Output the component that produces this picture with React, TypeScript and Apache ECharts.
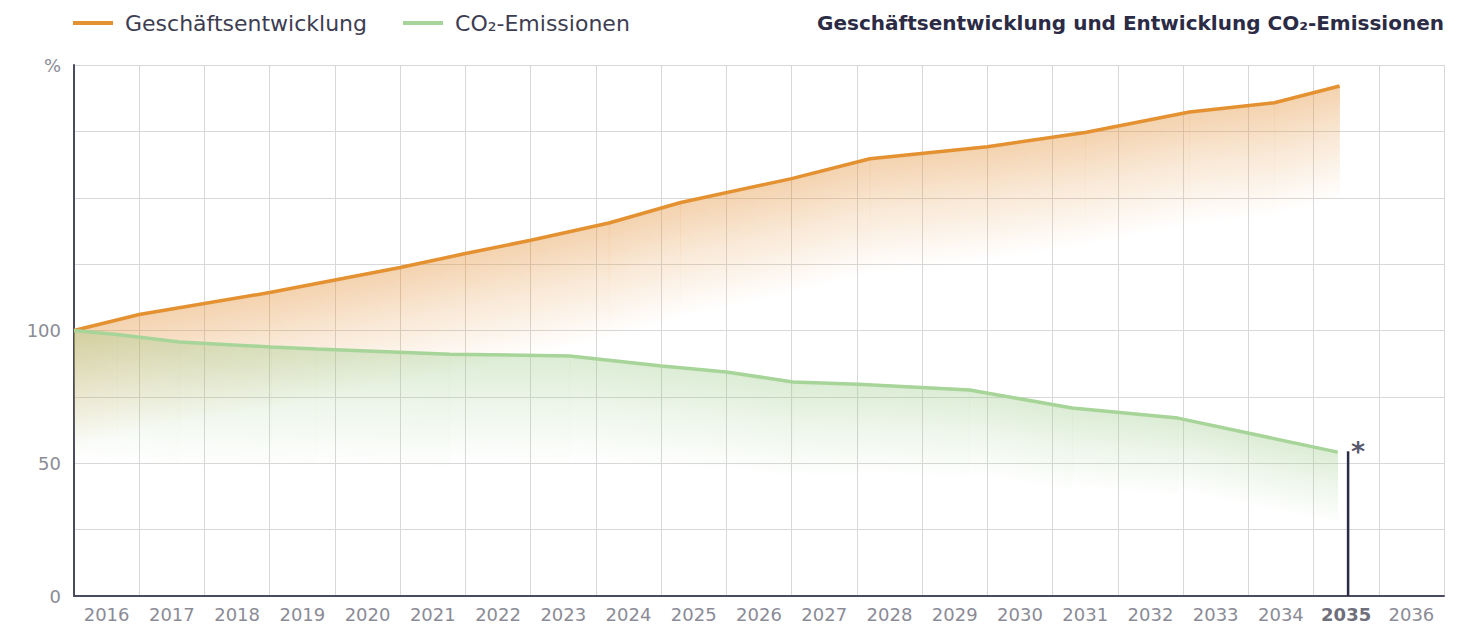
import React, { useEffect, useRef } from 'react';
import * as echarts from 'echarts';

// ---------- data ----------
const years = ['2016','2017','2018','2019','2020','2021','2022','2023','2024','2025','2026','2027','2028','2029','2030','2031','2032','2033','2034','2035','2036'];
// x positions in "year units" from the left edge of the 2016 band
const businessX = [0, 1, 3, 5, 6, 7, 8.2, 9.3, 11, 12.2, 14, 15.5, 17.1, 18.4, 19.4];
const businessY = [100, 106, 114.3, 123.7, 129, 134, 140.5, 148.2, 157.2, 164.7, 169.2, 174.6, 182.3, 185.8, 192.1];
const co2X = [0, 0.66, 1.62, 3.02, 3.72, 5.76, 7.6, 9.01, 10, 11.02, 12.02, 13.73, 15.3, 16.92, 19.37];
const co2Y = [100, 98.5, 95.7, 93.8, 93, 91.1, 90.4, 86.6, 84.4, 80.6, 79.8, 77.6, 70.8, 67, 54.2];
const markerX = [19.53, 19.53];
const markerY = [0, 54.5];
const yTickLabels: Record<number, string> = { 0: '0', 50: '50', 100: '100', 200: '%' };
const highlightYear = '2035';
const seriesNames = ['Geschäftsentwicklung', 'CO₂-Emissionen'];
const titleText = 'Geschäftsentwicklung und Entwicklung CO₂-Emissionen';

// ---------- styles ----------
const FONT = 'DejaVu Sans';
const ORANGE = '#e39131';
const GREEN = '#a7d498';
const DARK = '#2b2b45';
const AXIS = '#4b4b60';
const GRID = '#d8d8d8';
const LABEL = '#8b8b96';

function bandSeries(name: string, xs: number[], ys: number[], rgb: string, alpha: number, depthL: number, depthR: number, z: number) {
  const segs = xs.slice(0, -1).map((x, i) => [x, ys[i], xs[i + 1], ys[i + 1]]);
  return {
    name,
    type: 'custom',
    xAxisIndex: 1,
    yAxisIndex: 0,
    silent: true,
    z,
    data: segs,
    renderItem: (params: any, api: any) => {
      const p0 = api.coord([api.value(0), api.value(1)]);
      const p1 = api.coord([api.value(2), api.value(3)]);
      const cs = params.coordSys;
      const depthAt = (px: number) => depthL + (depthR - depthL) * (px - cs.x) / cs.width;
      const d0 = depthAt(p0[0]);
      const d1 = depthAt(p1[0]);
      const d = (d0 + d1) / 2;
      const dx = p1[0] - p0[0];
      const dy = p1[1] - p0[1];
      const L = Math.hypot(dx, dy) || 1;
      const nx = -dy / L;
      const ny = dx / L;
      const dist = d * dx / L;
      const grad = new echarts.graphic.LinearGradient(
        p0[0], p0[1], p0[0] + nx * dist, p0[1] + ny * dist,
        [
          { offset: 0, color: `rgba(${rgb},${alpha})` },
          { offset: 0.45, color: `rgba(${rgb},${alpha * 0.5})` },
          { offset: 1, color: `rgba(${rgb},0)` },
        ],
        true
      );
      return {
        type: 'polygon',
        shape: { points: [p0, [p1[0] + 0.3, p1[1]], [p1[0] + 0.3, p1[1] + d1], [p0[0], p0[1] + d0]] },
        style: { fill: grad },
      };
    },
  };
}

export default function App() {
  const ref = useRef<HTMLDivElement>(null);
  useEffect(() => {
    const chart = echarts.init(ref.current!, null, { renderer: 'svg' });
    const option: any = {
      animation: false,
      backgroundColor: '#ffffff',
      textStyle: { fontFamily: FONT },
      title: {
        text: titleText,
        right: 22,
        top: 8,
        textStyle: { fontFamily: FONT, fontSize: 20, fontWeight: 'bold', color: DARK },
      },
      legend: {
        left: 68,
        top: 7,
        itemWidth: 40,
        itemHeight: 4,
        itemGap: 36,
        icon: 'rect',
        data: seriesNames,
        textStyle: { fontFamily: FONT, fontSize: 22, color: '#3d3d52', padding: [0, 0, 0, 7] },
      },
      grid: { left: 74, right: 27, top: 65, bottom: 34, containLabel: false },
      xAxis: [
        {
          type: 'category',
          data: years,
          boundaryGap: true,
          axisLine: { show: true, lineStyle: { color: AXIS, width: 2 } },
          axisTick: { show: false },
          splitLine: { show: true, lineStyle: { color: GRID, width: 1 } },
          axisLabel: {
            color: LABEL,
            fontSize: 18,
            fontFamily: FONT,
            margin: 9,
            interval: 0,
            formatter: (v: string) => (v === highlightYear ? `{b|${v}}` : v),
            rich: { b: { fontSize: 18, fontWeight: 'bold', color: '#6f6f7c', fontFamily: FONT } },
          },
          z: 1,
        },
        { type: 'value', min: 0, max: years.length, show: false },
      ],
      yAxis: {
        type: 'value',
        min: 0,
        max: 200,
        interval: 25,
        axisLine: { show: true, lineStyle: { color: AXIS, width: 2 } },
        axisTick: { show: false },
        splitLine: { show: true, lineStyle: { color: GRID, width: 1 } },
        axisLabel: {
          color: LABEL,
          fontSize: 18,
          fontFamily: FONT,
          margin: 13,
          formatter: (v: number) => yTickLabels[v] ?? '',
        },
        z: 1,
      },
      series: [
        bandSeries('fillBusiness', businessX, businessY, '228,148,62', 0.42, 118, 112, 2),
        bandSeries('fillCo2', co2X, co2Y, '150,200,130', 0.34, 132, 64, 2),
        {
          name: seriesNames[0],
          type: 'line',
          xAxisIndex: 1,
          data: businessX.map((x, i) => [x, businessY[i]]),
          symbol: 'none',
          color: ORANGE,
          lineStyle: { color: ORANGE, width: 3.5 },
          z: 4,
        },
        {
          name: seriesNames[1],
          type: 'line',
          xAxisIndex: 1,
          data: co2X.map((x, i) => [x, co2Y[i]]),
          symbol: 'none',
          color: GREEN,
          lineStyle: { color: GREEN, width: 3.5 },
          z: 4,
        },
        {
          name: 'marker',
          type: 'line',
          xAxisIndex: 1,
          data: markerX.map((x, i) => [x, markerY[i]]),
          symbol: 'none',
          lineStyle: { color: DARK, width: 2.5 },
          z: 5,
        },
        {
          name: 'markerStar',
          type: 'scatter',
          xAxisIndex: 1,
          data: [[markerX[1], markerY[1]]],
          symbolSize: 2,
          itemStyle: { color: 'rgba(0,0,0,0)' },
          label: {
            show: true,
            formatter: '*',
            position: 'right',
            distance: 2,
            offset: [0, 6],
            fontSize: 27,
            fontWeight: 'bold',
            color: DARK,
            fontFamily: FONT,
          },
          labelLayout: { hideOverlap: false },
          z: 5,
        },
      ],
    };
    chart.setOption(option);
    return () => chart.dispose();
  }, []);
  return <div ref={ref} style={{ position: 'fixed', left: 0, top: 0, width: 1471, height: 630 }} />;
}
